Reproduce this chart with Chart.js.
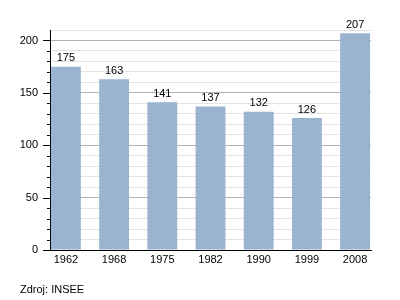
<!DOCTYPE html>
<html>
<head>
<meta charset="utf-8">
<script src="https://cdn.jsdelivr.net/npm/chart.js@4/dist/chart.umd.min.js"></script>
<style>
  html, body { margin: 0; padding: 0; background: #fff; }
  #wrap { width: 400px; height: 300px; }
</style>
</head>
<body>
<div id="wrap"><canvas id="myChart" width="400" height="300"></canvas></div>
<script>
// data
var years = ["1962", "1968", "1975", "1982", "1990", "1999", "2008"];
var population = [175, 163, 141, 137, 132, 126, 207];
var yTicks = [0, 50, 100, 150, 200];
var sourceText = "Zdroj: INSEE";

var FONT = "'Liberation Sans', Arial, sans-serif";

// body pro linearni osu x (index roku)
var points = population.map(function (v, i) { return { x: i, y: v }; });

// popisky nad sloupci + drobne znacky osy + zdroj
var extras = {
    id: "extras",
    afterDatasetsDraw: function (chart) {
        var ctx = chart.ctx;
        var meta = chart.getDatasetMeta(0);
        ctx.save();
        ctx.font = "11px " + FONT;
        ctx.fillStyle = "#000";
        ctx.textAlign = "center";
        ctx.textBaseline = "bottom";
        meta.data.forEach(function (bar, i) {
            ctx.fillText(String(population[i]), bar.x, bar.y - 3);
        });
        ctx.restore();
    },
    afterDraw: function (chart) {
        var ctx = chart.ctx;
        var y = chart.scales.y;
        var area = chart.chartArea;
        ctx.save();
        ctx.strokeStyle = "#000";
        ctx.lineWidth = 1;
        for (var v = 0; v <= 200; v += 10) {
            var py = Math.round(y.getPixelForValue(v)) + 0.5;
            var len = (v % 50 === 0) ? 7 : 3;
            ctx.beginPath();
            ctx.moveTo(area.left - len, py);
            ctx.lineTo(area.left, py);
            ctx.stroke();
        }
        ctx.font = "11px " + FONT;
        ctx.fillStyle = "#000";
        ctx.textAlign = "left";
        ctx.textBaseline = "middle";
        ctx.fillText(sourceText, 20, 290);
        ctx.restore();
    }
};

var ctx = document.getElementById("myChart").getContext("2d");
var chart = new Chart(ctx, {
    type: "bar",
    data: {
        datasets: [
            {
                data: points,
                backgroundColor: "rgb(154, 179, 207)",
                borderWidth: 0,
                categoryPercentage: 1.0,
                barPercentage: 0.62
            }
        ]
    },
    options: {
        responsive: false,
        animation: false,
        layout: { padding: { left: 0, right: 29, top: 30, bottom: 0 } },
        plugins: {
            legend: { display: false },
            tooltip: { enabled: false }
        },
        scales: {
            x: {
                type: "linear",
                offset: false,
                min: -0.33,
                max: years.length - 1 + 0.33,
                afterBuildTicks: function (scale) {
                    scale.ticks = years.map(function (y, i) { return { value: i }; });
                },
                grid: { display: false, drawTicks: false },
                border: { color: "#000", width: 1 },
                ticks: {
                    color: "#000",
                    font: { size: 11, family: FONT },
                    padding: 3,
                    maxRotation: 0,
                    autoSkip: false,
                    callback: function (v) { return years[v]; }
                },
                afterFit: function (scale) { scale.height = 50; }
            },
            y: {
                min: 0,
                max: 210,
                afterBuildTicks: function (scale) {
                    var t = [];
                    for (var v = 0; v <= 210; v += 10) t.push({ value: v });
                    scale.ticks = t;
                },
                grid: {
                    drawTicks: false,
                    color: function (c) {
                        var v = c.tick ? c.tick.value : 0;
                        return (v % 50 === 0) ? "#b3b3b3" : "#e3e3e3";
                    }
                },
                border: { color: "#000", width: 1 },
                ticks: {
                    color: "#000",
                    font: { size: 11, family: FONT },
                    padding: 12,
                    autoSkip: false,
                    callback: function (v) {
                        return yTicks.indexOf(v) >= 0 ? String(v) : "";
                    }
                },
                afterFit: function (scale) { scale.width = 50; }
            }
        }
    },
    plugins: [extras]
});
</script>
</body>
</html>
